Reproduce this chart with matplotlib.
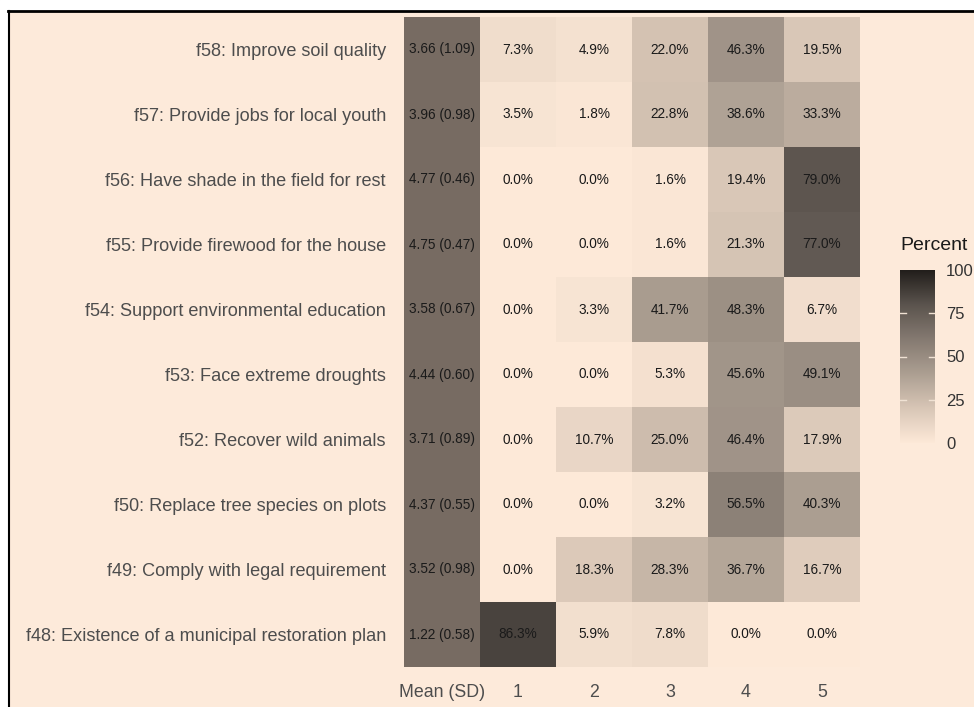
import numpy as np
import matplotlib
matplotlib.use("Agg")
import matplotlib.pyplot as plt
from matplotlib.colors import LinearSegmentedColormap, ListedColormap, Normalize
from matplotlib.patches import Rectangle
from matplotlib.lines import Line2D

plt.rcParams['font.family'] = ['Liberation Sans', 'DejaVu Sans']

items = [
    "f58: Improve soil quality",
    "f57: Provide jobs for local youth",
    "f56: Have shade in the field for rest",
    "f55: Provide firewood for the house",
    "f54: Support environmental education",
    "f53: Face extreme droughts",
    "f52: Recover wild animals",
    "f50: Replace tree species on plots",
    "f49: Comply with legal requirement",
    "f48: Existence of a municipal restoration plan",
]
mean_sd = ["3.66 (1.09)", "3.96 (0.98)", "4.77 (0.46)", "4.75 (0.47)", "3.58 (0.67)",
           "4.44 (0.60)", "3.71 (0.89)", "4.37 (0.55)", "3.52 (0.98)", "1.22 (0.58)"]
x_labels = ["Mean (SD)", "1", "2", "3", "4", "5"]
pct_1 = [7.3, 3.5, 0.0, 0.0, 0.0, 0.0, 0.0, 0.0, 0.0, 86.3]
pct_2 = [4.9, 1.8, 0.0, 0.0, 3.3, 0.0, 10.7, 0.0, 18.3, 5.9]
pct_3 = [22.0, 22.8, 1.6, 1.6, 41.7, 5.3, 25.0, 3.2, 28.3, 7.8]
pct_4 = [46.3, 38.6, 19.4, 21.3, 48.3, 45.6, 46.4, 56.5, 36.7, 0.0]
pct_5 = [19.5, 33.3, 79.0, 77.0, 6.7, 49.1, 17.9, 40.3, 16.7, 0.0]
legend_ticks = [0, 25, 50, 75, 100]

BG = '#FDEADA'
W, H = 974, 707
fig = plt.figure(figsize=(W / 100, H / 100), dpi=100, facecolor=BG)

cmap = LinearSegmentedColormap.from_list("pct", [
    (0.0, '#FDE9D8'), (0.2, '#D8C6B6'), (0.4, '#AC9F92'),
    (0.6, '#857A71'), (0.8, '#5B544E'), (1.0, '#221E1B')])
norm = Normalize(0, 100)

def fx(px):
    return px / W

def fy(py):
    return 1 - py / H

ax = fig.add_axes([fx(404), fy(667), fx(860) - fx(404), fy(17) - fy(667)])
ax.set_facecolor(BG)

n = len(items)
P = np.array([pct_1, pct_2, pct_3, pct_4, pct_5]).T  # rows x 5
ys = np.arange(n)[::-1]
xe = np.arange(0.5, 6.0, 1.0)
ye = np.arange(-0.5, n, 1.0)
Pplot = P[::-1]
ax.pcolormesh(xe, ye, Pplot, cmap=cmap, norm=norm, shading='flat')
mean_col = np.zeros((n, 1))
ax.pcolormesh([-0.5, 0.5], ye, mean_col, cmap=ListedColormap(['#776B62']), shading='flat')

for i in range(n):
    y = ys[i]
    ax.text(0, y, mean_sd[i], ha='center', va='center', fontsize=9.8, color='#1a1a1a')
    for j in range(5):
        ax.text(j + 1, y, f"{P[i, j]:.1f}%", ha='center', va='center', fontsize=9.8, color='#1a1a1a')

ax.set_xlim(-0.5, 5.5)
ax.set_ylim(-0.5, n - 0.5)
ax.set_xticks(range(6))
ax.set_xticklabels(x_labels, fontsize=12.8, color='#4d4d4d')
ax.set_yticks(ys)
ax.set_yticklabels(items, fontsize=13.1, color='#4d4d4d')
ax.tick_params(axis='y', length=0, pad=13)
ax.tick_params(axis='x', length=0, pad=12)
for s in ax.spines.values():
    s.set_visible(False)

# legend colorbar
cax = fig.add_axes([fx(900), fy(443), fx(935) - fx(900), fy(270) - fy(443)])
grad = np.linspace(0, 100, 256).reshape(-1, 1)
cax.imshow(grad, aspect='auto', cmap=cmap, norm=norm, origin='lower', extent=[0, 1, 0, 100])
cax.set_xlim(0, 1)
cax.set_ylim(0, 100)
cax.set_xticks([])
cax.yaxis.tick_right()
cax.set_yticks(legend_ticks)
cax.set_yticklabels([str(t) for t in legend_ticks], fontsize=12, color='#333333')
cax.tick_params(axis='y', length=0, pad=8)
for t in legend_ticks[1:-1]:
    cax.plot([0, 0.18], [t, t], color='#f0e2d4', lw=1)
    cax.plot([0.82, 1], [t, t], color='#f0e2d4', lw=1)
for s in cax.spines.values():
    s.set_visible(False)
fig.text(fx(900), fy(246), "Percent", fontsize=14, color='#1a1a1a', ha='left', va='center')

# outer frame of the screenshot
fig.add_artist(Rectangle((0, fy(10)), 1, 1 - fy(10), transform=fig.transFigure, color='white', zorder=5))
fig.add_artist(Rectangle((0, 0), fx(8), 1, transform=fig.transFigure, color='white', zorder=5))
fig.add_artist(Line2D([fx(8), 1], [fy(11), fy(11)], transform=fig.transFigure, color='black', lw=2, zorder=6))
fig.add_artist(Line2D([fx(8.5), fx(8.5)], [0, fy(11)], transform=fig.transFigure, color='black', lw=1.5, zorder=6))

fig.savefig("out.png", dpi=100, facecolor=BG)
